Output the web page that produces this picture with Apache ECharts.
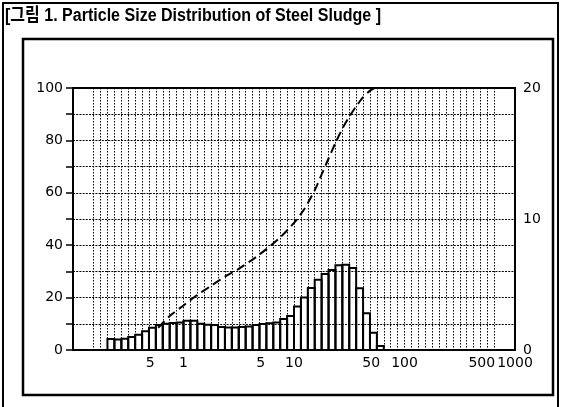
<!DOCTYPE html>
<html>
<head>
<meta charset="utf-8">
<title>Particle Size Distribution of Steel Sludge</title>
<script src="https://cdn.jsdelivr.net/npm/echarts@6.0.0/dist/echarts.min.js"></script>
<style>
  html, body { margin: 0; padding: 0; background: #fff; }
  #chart { width: 561px; height: 407px; }
</style>
</head>
<body>
<div id="chart"></div>
<script>
// 입도 구간 경계 (um), 1/16 decade 간격
const binEdges = [0.205, 0.237, 0.274, 0.316, 0.365, 0.422, 0.487, 0.562, 0.649, 0.750,
  0.866, 1.00, 1.155, 1.334, 1.540, 1.778, 2.054, 2.371, 2.738, 3.162,
  3.652, 4.217, 4.870, 5.623, 6.494, 7.499, 8.660, 10.0, 11.55, 13.34,
  15.40, 17.78, 20.54, 23.71, 27.38, 31.62, 36.52, 42.17, 48.70, 56.23, 64.94];
// 구간별 빈도 (%), 오른쪽 축
const freqPct = [0.84, 0.80, 0.86, 1.00, 1.16, 1.44, 1.70, 1.90, 2.00, 2.06,
  2.10, 2.24, 2.24, 2.00, 1.92, 1.90, 1.76, 1.72, 1.72, 1.76,
  1.80, 1.90, 1.98, 2.04, 2.10, 2.36, 2.60, 3.32, 4.00, 4.74,
  5.36, 5.80, 6.10, 6.46, 6.50, 6.26, 4.72, 2.80, 1.32, 0.30];
// 누적 (%), 왼쪽 축
const cumSize = [0.59, 0.75, 1.0, 1.33, 1.78, 2.37, 3.16, 4.22, 5.62, 7.5, 10,
  12.5, 15.4, 17.8, 20.5, 23.7, 27.4, 31.6, 36.5, 42.2, 48.7, 54];
const cumPct = [8.5, 13, 17, 21, 24.5, 28, 31, 34.5, 38.5, 43, 48.5,
  54, 61, 67, 73, 79, 84.5, 89, 93, 96.5, 99, 100];
// x축 라벨
const xTickValues = [0.5, 1, 5, 10, 50, 100, 500, 1000];
const xTickLabels = ['5', '1', '5', '10', '50', '100', '500', '1000'];

const lg = v => Math.log10(v);

// 세로 점선 격자: 1/16 decade 마다
const gridSteps = [];
for (let k = -13; k <= 45; k++) gridSteps.push(k / 16);

const labelFont = { fontFamily: 'DejaVu Sans', fontSize: 14, color: '#000' };
const dotted = { color: '#000', width: 1, type: [1.5, 1.5] };

// 제목 폭을 원본에 맞춤 (좁은 글꼴)
const titleText = '[그림 1. Particle Size Distribution of Steel Sludge ]';
const titleFont = 'bold 18px "Liberation Sans", "Noto Sans CJK KR"';
const ctx = document.createElement('canvas').getContext('2d');
ctx.font = titleFont;
const titleScale = 376 / ctx.measureText(titleText).width;

const chart = echarts.init(document.getElementById('chart'));
chart.setOption({
  animation: false,
  backgroundColor: '#fff',
  grid: {
    left: 73, right: 46, top: 88, bottom: 57,
    show: true, borderColor: '#000', borderWidth: 2, backgroundColor: 'transparent'
  },
  xAxis: {
    type: 'value',
    min: -1, max: 3,
    axisLine: { onZero: false, lineStyle: { color: '#000', width: 2 } },
    axisTick: { show: false, customValues: gridSteps },
    axisLabel: Object.assign({
      margin: 6,
      customValues: xTickValues.map(lg),
      formatter: v => {
        const i = xTickValues.findIndex(t => Math.abs(lg(t) - v) < 1e-6);
        return i < 0 ? '' : xTickLabels[i];
      }
    }, labelFont),
    splitLine: { show: true, lineStyle: dotted }
  },
  yAxis: [
    {
      type: 'value', min: 0, max: 100, interval: 10,
      axisLine: { show: true, onZero: false, lineStyle: { color: '#000', width: 2 } },
      axisTick: { show: true, inside: false, length: 7, lineStyle: { color: '#000', width: 1.5 } },
      axisLabel: Object.assign({ margin: 10, formatter: v => (v % 20 === 0 ? v : '') }, labelFont),
      splitLine: { show: true, lineStyle: { color: '#000', width: 1, type: [2, 1.2] } }
    },
    {
      type: 'value', min: 0, max: 20, interval: 10, position: 'right',
      axisLine: { show: false, onZero: false },
      axisTick: { show: false },
      axisLabel: Object.assign({ margin: 8 }, labelFont),
      splitLine: { show: false }
    }
  ],
  series: [
    {
      name: 'frequency',
      type: 'custom',
      yAxisIndex: 1,
      encode: { x: [0, 1], y: 2 },
      data: freqPct.map((v, i) => [lg(binEdges[i]), lg(binEdges[i + 1]), v]),
      renderItem: (params, api) => {
        const p0 = api.coord([api.value(0), 0]);
        const p1 = api.coord([api.value(1), api.value(2)]);
        return {
          type: 'rect',
          shape: { x: p0[0], y: p1[1], width: p1[0] - p0[0], height: p0[1] - p1[1] },
          style: { fill: 'none', stroke: '#000', lineWidth: 2 }
        };
      }
    },
    {
      name: 'cumulative',
      type: 'line',
      yAxisIndex: 0,
      data: cumSize.map((s, i) => [lg(s), cumPct[i]]),
      showSymbol: false,
      smooth: 0.2,
      lineStyle: { color: '#000', width: 2, type: [9, 5] }
    }
  ],
  graphic: [
    { type: 'rect', silent: true, shape: { x: 3, y: 3, width: 555, height: 410 },
      style: { fill: 'none', stroke: '#000', lineWidth: 2 } },
    { type: 'rect', silent: true, shape: { x: 23, y: 39, width: 530, height: 356 },
      style: { fill: 'none', stroke: '#000', lineWidth: 2.5 } },
    { type: 'text', x: 5, y: 7, scaleX: titleScale, silent: true,
      style: { text: titleText, font: titleFont, fill: '#000' } }
  ]
});
</script>
</body>
</html>
